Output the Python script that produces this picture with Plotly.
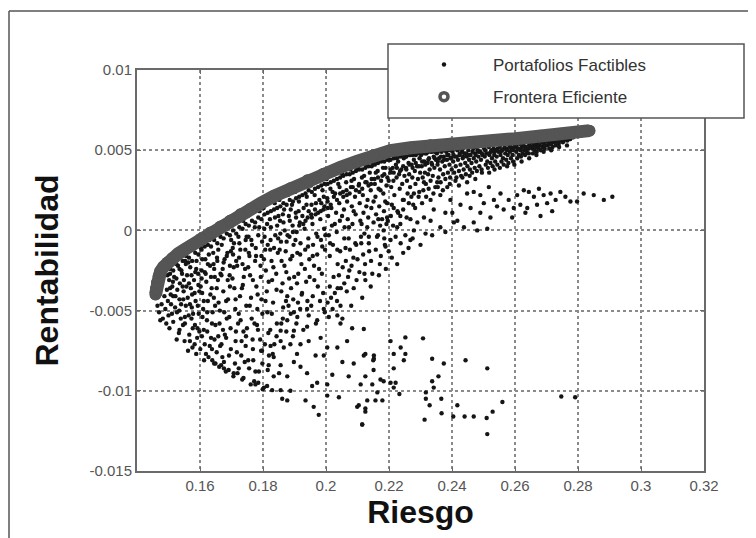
import plotly.graph_objects as go

# ---------------- Data ----------------
frontera_riesgo = [0.14587, 0.14603, 0.14635, 0.14683, 0.14746, 0.14841, 0.14968, 0.15127,
                   0.15317, 0.15540, 0.15762, 0.16016, 0.16333, 0.16651, 0.16968, 0.17286,
                   0.17603, 0.17921, 0.18333, 0.18873, 0.19413, 0.19921, 0.20460, 0.21000,
                   0.21508, 0.22048, 0.22683, 0.23318, 0.23952, 0.24587, 0.25222, 0.26016,
                   0.26810, 0.27444, 0.28079, 0.28365]
frontera_rentabilidad = [-0.0040, -0.003625, -0.00325, -0.002875, -0.002563, -0.002281, -0.0020,
                         -0.001719, -0.001438, -0.001156, -0.000875, -0.000531, -0.000125,
                         0.00025, 0.000625, 0.0010, 0.001344, 0.001688, 0.002125, 0.002625,
                         0.003125, 0.003531, 0.003938, 0.004313, 0.004688, 0.004969, 0.005156,
                         0.005313, 0.005406, 0.0055, 0.005594, 0.005719, 0.005906, 0.006031,
                         0.006156, 0.006219]

factibles_banda = [
    (0.1465,-0.0047),(0.147,-0.0051),(0.1478,-0.0046),(0.1482,-0.0055),(0.149,-0.0049),(0.1493,-0.0058),
    (0.1498,-0.0044),(0.1487,-0.0041),(0.1495,-0.0037),(0.15,-0.0053),(0.1502,-0.0031),(0.1497,-0.0028),
    (0.1503,-0.0061),(0.1474,-0.0056),
    (0.1505,-0.0024),(0.1512,-0.0035),(0.1508,-0.0046),(0.1515,-0.0057),(0.1518,-0.0029),(0.1522,-0.0041),
    (0.1527,-0.0051),(0.153,-0.0022),(0.1533,-0.0064),(0.1536,-0.0033),(0.154,-0.0046),(0.1543,-0.0027),
    (0.1546,-0.0059),(0.1548,-0.0038),(0.1551,-0.0069),(0.1553,-0.0019),(0.1526,-0.0068),(0.1511,-0.0052),
    (0.1539,-0.0055),(0.1549,-0.0031),
    (0.1556,-0.0016),(0.1559,-0.0028),(0.1561,-0.0042),(0.1564,-0.0053),(0.1566,-0.0065),(0.1569,-0.0023),
    (0.1571,-0.0036),(0.1574,-0.0048),(0.1576,-0.0073),(0.1579,-0.0012),(0.1581,-0.0031),(0.1584,-0.0059),
    (0.1586,-0.0044),(0.1589,-0.0019),(0.1591,-0.0067),(0.1594,-0.0027),(0.1596,-0.0052),(0.1598,-0.0038),
    (0.1562,-0.0075),(0.1588,-0.0077),(0.1577,-0.0061),(0.1597,-0.0009),
    (0.1603,-0.0011),(0.1605,-0.0025),(0.1607,-0.0039),(0.161,-0.0049),(0.1612,-0.0062),(0.1615,-0.0071),
    (0.1617,-0.0018),(0.162,-0.0032),(0.1622,-0.0056),(0.1625,-0.0044),(0.1627,-0.0079),(0.163,-0.0006),
    (0.1632,-0.0022),(0.1635,-0.0067),(0.1637,-0.0036),(0.164,-0.0051),(0.1642,-0.0014),(0.1645,-0.0083),
    (0.1647,-0.0029),(0.1649,-0.0059),(0.1613,-0.0081),(0.1638,-0.0074),(0.1644,-0.0042),(0.1608,-0.0054),
    (0.1652,-0.0002),(0.1654,-0.0017),(0.1657,-0.0031),(0.1659,-0.0045),(0.1662,-0.0058),(0.1664,-0.0072),
    (0.1667,-0.0084),(0.1669,-0.0009),(0.1672,-0.0024),(0.1674,-0.0038),(0.1677,-0.0051),(0.1679,-0.0065),
    (0.1682,-0.0088),(0.1684,0.0001),(0.1687,-0.0014),(0.1689,-0.0043),(0.1692,-0.0078),(0.1694,-0.0028),
    (0.1697,-0.0061),(0.1699,-0.0006),(0.1658,-0.0066),(0.1685,-0.0055),(0.1671,-0.0079),(0.1695,-0.0035),
    (0.1702,0.0003),(0.1704,-0.0011),(0.1707,-0.0023),(0.1709,-0.0036),(0.1712,-0.0049),(0.1714,-0.0063),
    (0.1717,-0.0076),(0.1719,-0.0089),(0.1722,-0.0004),(0.1724,-0.0017),(0.1727,-0.0041),(0.1729,-0.0056),
    (0.1732,-0.0069),(0.1734,-0.0093),(0.1737,0.0006),(0.1739,-0.0029),(0.1742,-0.0082),(0.1744,-0.0012),
    (0.1747,-0.0047),(0.1749,-0.0061),(0.1711,-0.0083),(0.1736,-0.0034),(0.1745,-0.0072),(0.1721,-0.0058),
    (0.1752,0.0009),(0.1754,-0.0004),(0.1757,-0.0016),(0.1759,-0.0028),(0.1762,-0.0042),(0.1764,-0.0055),
    (0.1767,-0.0068),(0.1769,-0.0081),(0.1772,-0.0094),(0.1774,0.0002),(0.1777,-0.0011),(0.1779,-0.0035),
    (0.1782,-0.0049),(0.1784,-0.0062),(0.1787,-0.0088),(0.1789,0.0012),(0.1792,-0.0022),(0.1794,-0.0075),
    (0.1797,-0.0007),(0.1799,-0.0099),(0.1756,-0.0086),(0.1781,-0.0059),(0.1795,-0.0043),
    (0.1802,0.0014),(0.1804,0.0001),(0.1807,-0.0012),(0.1809,-0.0025),(0.1812,-0.0038),(0.1814,-0.0051),
    (0.1817,-0.0064),(0.1819,-0.0078),(0.1822,0.0007),(0.1824,-0.0006),(0.1827,-0.0019),(0.1829,-0.0031),
    (0.1832,-0.0045),(0.1834,-0.0091),(0.1837,0.0017),(0.1839,-0.0003),(0.1842,-0.0027),(0.1844,-0.0058),
    (0.1847,-0.0014),(0.1849,0.0009),(0.1813,-0.0097),(0.1836,-0.0071),
    (0.1852,0.0019),(0.1854,0.0006),(0.1857,-0.0007),(0.1859,-0.0019),(0.1862,-0.0033),(0.1864,-0.0048),
    (0.1867,0.0013),(0.1869,0.0),(0.1872,-0.0013),(0.1874,-0.0026),(0.1877,-0.0041),(0.1879,0.0022),
    (0.1882,0.0009),(0.1884,-0.0004),(0.1887,-0.0018),(0.1889,-0.0036),(0.1892,0.0016),(0.1894,0.0003),
    (0.1897,-0.0009),(0.1899,-0.0029),(0.1863,-0.0055),(0.1881,-0.0047),(0.1896,-0.0043),
    (0.1902,0.0024),(0.1904,0.0011),(0.1907,-0.0001),(0.1909,-0.0014),(0.1912,-0.0027),(0.1914,0.0018),
    (0.1917,0.0005),(0.1919,-0.0008),(0.1922,-0.0021),(0.1924,-0.0039),(0.1927,0.0027),(0.1929,0.0014),
    (0.1932,0.0001),(0.1934,-0.0012),(0.1937,-0.0032),(0.1939,0.0021),(0.1942,0.0008),(0.1944,-0.0005),
    (0.1947,-0.0018),(0.1949,0.0029),(0.1911,-0.0045),(0.1941,-0.0044),
    (0.1952,0.0028),(0.1954,0.0016),(0.1957,0.0004),(0.1959,-0.0009),(0.1962,-0.0022),(0.1964,0.0022),
    (0.1967,0.001),(0.1969,-0.0002),(0.1972,-0.0015),(0.1974,-0.0035),(0.1977,0.0031),(0.1979,0.0019),
    (0.1982,0.0007),(0.1984,-0.0006),(0.1987,-0.0027),(0.1989,0.0025),(0.1992,0.0013),(0.1994,0.0001),
    (0.1997,-0.0012),(0.1999,0.0032),(0.1958,-0.0041),(0.1991,-0.0039),
    (0.2002,0.0032),(0.2004,0.002),(0.2007,0.0009),(0.2009,-0.0003),(0.2012,-0.0016),(0.2014,0.0026),
    (0.2017,0.0014),(0.2019,0.0003),(0.2022,-0.0009),(0.2024,-0.0029),(0.2027,0.0035),(0.2029,0.0023),
    (0.2032,0.0011),(0.2034,-0.0001),(0.2037,-0.0021),(0.2039,0.0029),(0.2042,0.0017),(0.2044,0.0006),
    (0.2047,-0.0036),(0.2049,0.0036),(0.2016,-0.0042),(0.2045,-0.0013),
    (0.2052,0.0035),(0.2054,0.0024),(0.2057,0.0013),(0.2059,0.0002),(0.2062,-0.0011),(0.2064,0.003),
    (0.2067,0.0018),(0.2069,0.0007),(0.2072,-0.0005),(0.2074,-0.0025),(0.2077,0.0038),(0.2079,0.0027),
    (0.2082,0.0015),(0.2084,0.0004),(0.2087,-0.0017),(0.2089,0.0032),(0.2092,0.0021),(0.2094,0.001),
    (0.2097,-0.0031),(0.2099,0.0039),(0.2066,-0.0038),
    (0.2102,0.0039),(0.2104,0.0028),(0.2107,0.0017),(0.2109,0.0006),(0.2112,-0.0008),(0.2114,0.0033),
    (0.2117,0.0022),(0.2119,0.0011),(0.2122,-0.0002),(0.2124,-0.0021),(0.2127,0.0041),(0.2129,0.003),
    (0.2132,0.0019),(0.2134,0.0008),(0.2137,-0.0013),(0.2139,0.0036),(0.2142,0.0025),(0.2144,0.0014),
    (0.2147,-0.0027),(0.2149,0.0042),
    (0.2152,0.0042),(0.2154,0.0032),(0.2157,0.0021),(0.2159,0.001),(0.2162,-0.0004),(0.2164,0.0037),
    (0.2167,0.0026),(0.2169,0.0015),(0.2172,0.0003),(0.2174,-0.0016),(0.2177,0.0044),(0.2179,0.0034),
    (0.2182,0.0023),(0.2184,0.0012),(0.2187,-0.0009),(0.2189,0.0039),(0.2192,0.0028),(0.2194,0.0017),
    (0.2197,0.0045),(0.2199,0.0031),
    (0.2202,0.0044),(0.2204,0.0036),(0.2207,0.0027),(0.2209,0.0016),(0.2212,0.0039),(0.2214,0.0031),
    (0.2217,0.0022),(0.2219,0.0046),(0.2222,0.0041),(0.2224,0.0033),(0.2227,0.0012),(0.2229,0.0043),
    (0.2232,0.0035),(0.2234,0.0026),(0.2237,0.0047),(0.2239,0.0038),(0.2242,0.0029),(0.2244,0.0019),
    (0.2247,0.0045),(0.2249,0.0034),
    (0.2252,0.0046),(0.2254,0.0039),(0.2257,0.0031),(0.2259,0.0023),(0.2262,0.0042),(0.2264,0.0035),
    (0.2267,0.0027),(0.2269,0.0047),(0.2272,0.0041),(0.2274,0.0033),(0.2277,0.0016),(0.2279,0.0044),
    (0.2282,0.0037),(0.2284,0.0029),(0.2287,0.0048),(0.2289,0.004),(0.2292,0.0032),(0.2294,0.0021),
    (0.2297,0.0045),(0.2299,0.0036),
    (0.2302,0.0047),(0.2304,0.004),(0.2307,0.0033),(0.2309,0.0025),(0.2312,0.0043),(0.2314,0.0036),
    (0.2317,0.0029),(0.2319,0.0048),(0.2322,0.0042),(0.2324,0.0035),(0.2327,0.0045),(0.2329,0.0038),
    (0.2332,0.0031),(0.2334,0.0049),(0.2337,0.0041),(0.2339,0.0034),(0.2342,0.0046),(0.2344,0.0039),
    (0.2347,0.0027),(0.2349,0.0044),
    (0.2352,0.0048),(0.2354,0.0041),(0.2357,0.0033),(0.2359,0.0045),(0.2362,0.0038),(0.2364,0.003),
    (0.2367,0.0049),(0.2369,0.0043),(0.2372,0.0035),(0.2374,0.0046),(0.2377,0.004),(0.2379,0.0032),
    (0.2382,0.0049),(0.2384,0.0044),(0.2387,0.0036),(0.2389,0.0047),(0.2392,0.0041),(0.2394,0.0033),
    (0.2397,0.0045),(0.2399,0.0038),
    (0.2402,0.0049),(0.2404,0.0043),(0.2407,0.0036),(0.2409,0.0046),(0.2412,0.004),(0.2414,0.0033),
    (0.2417,0.005),(0.2419,0.0044),(0.2422,0.0037),(0.2424,0.0047),(0.2427,0.0041),(0.2429,0.0034),
    (0.2432,0.0049),(0.2434,0.0045),(0.2437,0.0038),(0.2439,0.0048),(0.2442,0.0042),(0.2444,0.0035),
    (0.2447,0.0046),(0.2449,0.004),
    (0.2452,0.005),(0.2454,0.0044),(0.2457,0.0038),(0.2459,0.0047),(0.2462,0.0042),(0.2464,0.0036),
    (0.2467,0.0051),(0.2469,0.0045),(0.2472,0.0039),(0.2474,0.0048),(0.2477,0.0043),(0.2479,0.0037),
    (0.2482,0.005),(0.2484,0.0046),(0.2487,0.004),(0.2489,0.0049),(0.2492,0.0044),(0.2494,0.0038),
    (0.2497,0.0047),
    (0.2502,0.0051),(0.2504,0.0046),(0.2507,0.0041),(0.2509,0.0048),(0.2512,0.0043),(0.2514,0.0039),
    (0.2517,0.0052),(0.2519,0.0047),(0.2522,0.0042),(0.2524,0.0049),(0.2527,0.0045),(0.2529,0.004),
    (0.2532,0.0051),(0.2534,0.0047),(0.2537,0.0043),(0.2539,0.005),(0.2542,0.0046),(0.2544,0.0041),
    (0.2547,0.0049),
    (0.2552,0.0052),(0.2554,0.0047),(0.2557,0.0043),(0.2559,0.005),(0.2562,0.0045),(0.2564,0.0041),
    (0.2567,0.0053),(0.2569,0.0048),(0.2572,0.0044),(0.2574,0.0051),(0.2577,0.0047),(0.2579,0.0042),
    (0.2582,0.0053),(0.2584,0.0049),(0.2587,0.0045),(0.2589,0.0051),(0.2592,0.0047),(0.2594,0.0043),
    (0.2597,0.0052),
    (0.2602,0.0053),(0.2604,0.0049),(0.2607,0.0045),(0.2609,0.0051),(0.2612,0.0047),(0.2614,0.0054),
    (0.2617,0.005),(0.2619,0.0046),(0.2622,0.0052),(0.2624,0.0048),(0.2627,0.0054),(0.2629,0.005),
    (0.2632,0.0047),(0.2634,0.0052),(0.2637,0.0049),(0.2639,0.0055),(0.2642,0.0051),(0.2644,0.0048),
    (0.2647,0.0053),
    (0.2652,0.0055),(0.2654,0.0051),(0.2657,0.0048),(0.2659,0.0053),(0.2662,0.005),(0.2664,0.0056),
    (0.2667,0.0052),(0.2669,0.0049),(0.2672,0.0055),(0.2674,0.0051),(0.2677,0.0057),(0.2679,0.0053),
    (0.2682,0.005),(0.2684,0.0056),(0.2687,0.0052),(0.2689,0.0057),(0.2692,0.0054),(0.2694,0.0051),
    (0.2697,0.0056),
    (0.2702,0.0057),(0.2704,0.0053),(0.2707,0.0055),(0.2709,0.0051),(0.2712,0.0058),(0.2714,0.0054),
    (0.2717,0.0056),(0.2719,0.0052),(0.2722,0.0058),(0.2724,0.0055),(0.2727,0.0057),(0.2729,0.0053),
    (0.2732,0.0059),(0.2734,0.0056),(0.2737,0.0058),(0.2739,0.0054),(0.2742,0.0059),(0.2744,0.0056),
    (0.2747,0.0058),
    (0.2752,0.0055),(0.2756,0.0059),(0.2759,0.0057),(0.2763,0.006),(0.2766,0.0056),(0.277,0.0059),
    (0.2774,0.0057),(0.2778,0.006),(0.2781,0.0058),(0.2785,0.0061),(0.2789,0.0059),(0.2793,0.0061),
    (0.2797,0.0059),(0.2801,0.0061),(0.2805,0.006),(0.2809,0.0062),
]

factibles_borde = [
    (0.1505,-0.0027),(0.1505,-0.0036),(0.1515,-0.0025),(0.1515,-0.0041),(0.1525,-0.0021),(0.1525,-0.0030),
    (0.1535,-0.0024),(0.1535,-0.0043),(0.1545,-0.0019),(0.1545,-0.0035),(0.1555,-0.0021),(0.1555,-0.0047),
    (0.1565,-0.0017),(0.1565,-0.0033),(0.1575,-0.0019),(0.1575,-0.0040),(0.1585,-0.0014),(0.1585,-0.0026),
    (0.1595,-0.0015),(0.1595,-0.0034),(0.1605,-0.0012),(0.1605,-0.0030),(0.1615,-0.0010),(0.1615,-0.0026),
    (0.1625,-0.0009),(0.1625,-0.0021),(0.1635,-0.0010),(0.1635,-0.0029),(0.1645,-0.0006),(0.1645,-0.0024),
    (0.1655,-0.0008),(0.1655,-0.0019),(0.1665,-0.0004),(0.1665,-0.0027),(0.1675,-0.0005),(0.1675,-0.0020),
    (0.1685,-0.0002),(0.1685,-0.0016),(0.1695,-0.0003),(0.1695,-0.0022),(0.1705,0.0000),(0.1705,-0.0015),
    (0.1715,-0.0002),(0.1715,-0.0019),(0.1725,0.0002),(0.1725,-0.0008),(0.1735,0.0001),(0.1735,-0.0021),
    (0.1745,0.0004),(0.1745,-0.0006),(0.1755,0.0003),(0.1755,-0.0014),(0.1765,0.0006),(0.1765,-0.0009),
    (0.1775,0.0005),(0.1775,-0.0019),(0.1785,0.0008),(0.1785,-0.0003),(0.1795,0.0007),(0.1795,-0.0016),
    (0.1805,0.0010),(0.1805,-0.0004),(0.1815,0.0011),(0.1815,-0.0009),(0.1825,0.0012),(0.1825,0.0002),
    (0.1835,0.0013),(0.1835,-0.0011),(0.1845,0.0014),(0.1845,0.0003),(0.1855,0.0015),(0.1855,-0.0002),
    (0.1865,0.0017),(0.1865,0.0005),(0.1875,0.0016),(0.1875,-0.0007),(0.1885,0.0019),(0.1885,0.0006),
    (0.1895,0.0018),(0.1895,-0.0001),(0.1905,0.0020),(0.1905,0.0008),(0.1915,0.0021),(0.1915,0.0003),
    (0.1925,0.0022),(0.1925,0.0009),(0.1935,0.0023),(0.1935,0.0006),(0.1945,0.0025),(0.1945,0.0012),
    (0.1955,0.0024),(0.1955,0.0008),(0.1965,0.0026),(0.1965,0.0013),(0.1975,0.0027),(0.1975,0.0011),
    (0.1985,0.0028),(0.1985,0.0017),(0.1995,0.0029),(0.1995,0.0015),(0.2005,0.0029),(0.2005,0.0018),
    (0.2015,0.0030),(0.2015,0.0016),(0.2025,0.0031),(0.2025,0.0021),(0.2035,0.0032),(0.2035,0.0019),
    (0.2045,0.0033),(0.2045,0.0023),(0.2055,0.0034),(0.2055,0.0021),(0.2065,0.0035),(0.2065,0.0025),
    (0.2075,0.0035),(0.2075,0.0023),(0.2085,0.0036),(0.2085,0.0027),(0.2095,0.0037),(0.2095,0.0025),
    (0.2105,0.0038),(0.2105,0.0029),(0.2115,0.0038),(0.2115,0.0026),(0.2125,0.0039),(0.2125,0.0030),
    (0.2135,0.0040),(0.2135,0.0028),(0.2145,0.0040),(0.2145,0.0032),(0.2155,0.0041),(0.2155,0.0029),
    (0.2165,0.0042),(0.2165,0.0033),(0.2175,0.0043),(0.2175,0.0031),(0.2185,0.0043),(0.2185,0.0035),
    (0.2195,0.0044),(0.2195,0.0033),
    (0.2205,0.0044),(0.2205,0.0038),(0.2215,0.0045),(0.2215,0.0036),(0.2225,0.0045),(0.2225,0.0039),
    (0.2235,0.0046),(0.2235,0.0037),(0.2245,0.0046),(0.2245,0.0040),(0.2255,0.0046),(0.2255,0.0038),
    (0.2265,0.0047),(0.2265,0.0041),(0.2275,0.0047),(0.2275,0.0039),(0.2285,0.0047),(0.2285,0.0042),
    (0.2295,0.0048),(0.2295,0.0040),(0.2305,0.0048),(0.2305,0.0043),(0.2315,0.0048),(0.2315,0.0041),
    (0.2325,0.0049),(0.2325,0.0044),(0.2335,0.0049),(0.2335,0.0042),(0.2345,0.0049),(0.2345,0.0045),
    (0.2355,0.0049),(0.2355,0.0043),(0.2365,0.0050),(0.2365,0.0046),(0.2375,0.0050),(0.2375,0.0044),
    (0.2385,0.0050),(0.2385,0.0047),(0.2395,0.0050),(0.2395,0.0045),(0.2405,0.0051),(0.2405,0.0047),
    (0.2415,0.0051),(0.2415,0.0046),(0.2425,0.0051),(0.2425,0.0048),(0.2435,0.0051),(0.2435,0.0046),
    (0.2445,0.0052),(0.2445,0.0048),(0.2455,0.0052),(0.2455,0.0047),(0.2465,0.0052),(0.2465,0.0049),
    (0.2475,0.0052),(0.2475,0.0047),(0.2485,0.0053),(0.2485,0.0049),(0.2495,0.0053),(0.2495,0.0048),
    (0.2505,0.0053),(0.2505,0.0050),(0.2515,0.0053),(0.2515,0.0048),(0.2525,0.0054),(0.2525,0.0050),
    (0.2535,0.0054),(0.2535,0.0049),(0.2545,0.0054),(0.2545,0.0051),(0.2555,0.0054),(0.2555,0.0049),
    (0.2565,0.0055),(0.2565,0.0051),(0.2575,0.0055),(0.2575,0.0050),(0.2585,0.0055),(0.2585,0.0052),
    (0.2595,0.0055),(0.2595,0.0050),(0.2605,0.0056),(0.2605,0.0052),(0.2615,0.0056),(0.2615,0.0051),
    (0.2625,0.0056),(0.2625,0.0053),(0.2635,0.0057),(0.2635,0.0051),(0.2645,0.0057),(0.2645,0.0053),
    (0.2655,0.0057),(0.2655,0.0052),(0.2665,0.0057),(0.2665,0.0054),(0.2675,0.0058),(0.2675,0.0053),
    (0.2685,0.0058),(0.2685,0.0055),(0.2695,0.0058),(0.2695,0.0053),(0.2705,0.0059),(0.2705,0.0055),
    (0.2715,0.0059),(0.2715,0.0054),(0.2725,0.0059),(0.2725,0.0056),(0.2735,0.0060),(0.2735,0.0055),
    (0.2745,0.0060),(0.2745,0.0057),(0.2755,0.0060),(0.2755,0.0056),(0.2765,0.0060),(0.2765,0.0058),
    (0.2775,0.0061),(0.2775,0.0057),(0.2785,0.0061),(0.2785,0.0058),(0.2795,0.0061),(0.2795,0.0059),
]

factibles_relleno = [
    (0.1507,-0.0040),(0.1514,-0.0032),(0.1521,-0.0048),(0.1528,-0.0037),(0.1534,-0.0050),(0.1541,-0.0025),
    (0.1547,-0.0043),(0.1552,-0.0054),
    (0.1557,-0.0035),(0.1563,-0.0020),(0.1568,-0.0046),(0.1573,-0.0028),(0.1578,-0.0052),(0.1583,-0.0039),
    (0.1588,-0.0024),(0.1593,-0.0047),(0.1598,-0.0063),
    (0.1602,-0.0035),(0.1607,-0.0018),(0.1612,-0.0044),(0.1618,-0.0027),(0.1623,-0.0051),(0.1628,-0.0015),
    (0.1633,-0.0040),(0.1638,-0.0058),(0.1643,-0.0021),(0.1648,-0.0047),
    (0.1653,-0.0036),(0.1658,-0.0012),(0.1663,-0.0050),(0.1668,-0.0028),(0.1673,-0.0062),(0.1678,-0.0018),
    (0.1683,-0.0044),(0.1688,-0.0031),(0.1693,-0.0054),(0.1698,-0.0013),
    (0.1703,-0.0030),(0.1708,-0.0008),(0.1713,-0.0043),(0.1718,-0.0022),(0.1723,-0.0052),(0.1728,-0.0012),
    (0.1733,-0.0036),(0.1738,-0.0063),(0.1743,-0.0024),(0.1748,-0.0004),
    (0.1753,-0.0023),(0.1758,-0.0047),(0.1763,-0.0006),(0.1768,-0.0031),(0.1773,-0.0058),(0.1778,-0.0016),
    (0.1783,-0.0040),(0.1788,0.0002),(0.1793,-0.0029),(0.1798,-0.0052),
    (0.1803,-0.0018),(0.1808,-0.0044),(0.1813,0.0004),(0.1818,-0.0032),(0.1823,-0.0012),(0.1828,-0.0052),
    (0.1833,-0.0023),(0.1838,0.0008),(0.1843,-0.0037),(0.1848,-0.0005),
    (0.1853,-0.0012),(0.1858,-0.0038),(0.1863,0.0010),(0.1868,-0.0022),(0.1873,-0.0044),(0.1878,-0.0003),
    (0.1883,-0.0030),(0.1888,0.0013),(0.1893,-0.0016),(0.1898,-0.0051),
    (0.1903,-0.0006),(0.1908,-0.0033),(0.1913,0.0012),(0.1918,-0.0015),(0.1923,-0.0040),(0.1928,0.0004),
    (0.1933,-0.0024),(0.1938,0.0016),(0.1943,-0.0010),(0.1948,-0.0029),
    (0.1953,0.0010),(0.1958,-0.0016),(0.1963,-0.0031),(0.1968,0.0017),(0.1973,-0.0004),(0.1978,-0.0024),
    (0.1983,0.0012),(0.1988,-0.0010),(0.1993,0.0021),(0.1998,-0.0003),
    (0.2006,0.0014),(0.2013,-0.0008),(0.2021,0.0024),(0.2028,0.0004),(0.2036,-0.0012),(0.2043,0.0027),
    (0.2051,0.0009),(0.2058,-0.0005),(0.2066,0.0022),(0.2073,0.0002),(0.2081,0.0031),(0.2088,0.0012),
    (0.2096,-0.0009),
    (0.2106,0.0024),(0.2113,0.0004),(0.2121,0.0034),(0.2128,0.0015),(0.2136,-0.0004),(0.2143,0.0029),
    (0.2151,0.0018),(0.2158,0.0036),(0.2166,0.0007),(0.2173,0.0025),(0.2181,0.0039),(0.2188,0.0018),
    (0.2196,0.0006),
]

factibles_lobulo = [
    (0.1535,-0.0062),(0.1552,-0.0058),(0.1568,-0.0069),(0.1573,-0.0055),(0.1583,-0.0071),(0.1592,-0.0061),
    (0.1601,-0.0074),(0.1606,-0.0066),(0.1619,-0.0077),(0.1623,-0.0063),(0.1631,-0.0072),(0.1639,-0.0081),
    (0.1646,-0.0068),(0.1653,-0.0076),(0.1661,-0.0085),(0.1668,-0.0071),(0.1676,-0.0082),(0.1683,-0.0067),
    (0.1691,-0.0087),(0.1698,-0.0074),(0.1706,-0.0091),(0.1713,-0.0069),(0.1723,-0.0086),(0.1731,-0.0078),
    (0.1738,-0.0092),(0.1746,-0.0066),(0.1753,-0.0081),(0.1761,-0.0096),(0.1768,-0.0074),(0.1776,-0.0088),
    (0.1785,-0.0095),(0.1791,-0.0068),(0.1798,-0.0083),(0.1806,-0.0071),(0.1815,-0.0087),(0.1823,-0.0062),
    (0.1831,-0.0077),(0.1843,-0.0066),(0.1851,-0.0089),(0.1858,-0.0058),(0.1866,-0.0073),(0.1874,-0.0063),
    (0.1888,-0.0052),(0.1895,-0.0066),(0.1906,-0.0058),(0.1918,-0.0049),(0.1928,-0.0062),(0.1945,-0.0053),
    (0.1953,-0.0047),(0.1968,-0.0058),(0.1981,-0.0044),(0.1996,-0.0051),
]

factibles_intermedios = [
    (0.2005,-0.0045),(0.2012,-0.0035),(0.2021,-0.0049),(0.2028,-0.0039),(0.2035,-0.0044),(0.2041,-0.0028),
    (0.2046,-0.0047),(0.2053,-0.0023),(0.2058,-0.0033),(0.2063,-0.0019),(0.207,-0.0029),(0.2076,-0.0012),
    (0.2081,-0.0022),(0.2088,-0.0036),(0.2093,-0.0008),(0.21,-0.0018),(0.2106,-0.0026),(0.2111,-0.0004),
    (0.2118,-0.0015),(0.2125,-0.0031),(0.2131,0.0002),(0.2136,-0.0008),(0.2143,-0.0019),(0.2151,0.0005),
    (0.2158,-0.0012),(0.2165,-0.0003),(0.2171,-0.0021),(0.2178,0.0007),(0.2185,-0.0005),(0.2192,0.0004),
    (0.2199,-0.0013),(0.2206,0.0009),(0.2213,0.0003),(0.2221,-0.0004),(0.2229,0.0011),(0.2236,0.0004),
    (0.2245,0.0013),(0.2256,0.0008),(0.2263,0.0017),(0.2271,0.0021),(0.2283,0.0014),(0.2296,0.0024),
    (0.2305,0.0017),(0.2318,0.0021),(0.2326,0.0026),(0.2341,0.0023),(0.2355,0.0027),(0.2371,0.0025),
    (0.2393,0.0029),(0.2411,0.0031),(0.2433,0.0033),(0.2456,0.0034),(0.2474,0.0032),(0.2495,0.0036),
    (0.2518,0.0036),(0.2535,0.0038),(0.2552,0.0039),(0.2575,0.004),(0.2598,0.0041),(0.2621,0.0043),
    (0.2645,0.0045),(0.2668,0.0047),(0.2691,0.0049),(0.2715,0.005),(0.274,0.0052),(0.2765,0.0053),
    (0.2037,-0.0036),(0.2052,-0.0055),(0.208,-0.0047),(0.2115,-0.0042),(0.2142,-0.0035),(0.2168,-0.0028),
    (0.219,-0.0024),(0.2209,-0.0017),(0.2226,-0.0021),(0.2245,-0.0014),(0.2262,-0.0011),(0.2275,-0.0005),
    (0.2122,-0.0027),
]

factibles_rama_superior = [
    (0.2517,0.0027),(0.2554,0.0023),(0.2580,0.0019),(0.2607,0.0022),(0.2628,0.0025),(0.2644,0.0024),
    (0.2660,0.0021),(0.2676,0.0026),(0.2691,0.0022),(0.2713,0.0023),(0.2729,0.0019),(0.2744,0.0024),
    (0.2760,0.0021),(0.2776,0.0018),(0.2797,0.0018),(0.2818,0.0023),(0.2850,0.0022),(0.2882,0.0019),
    (0.2909,0.0021),(0.2617,0.0016),(0.2639,0.0014),(0.2670,0.0016),(0.2702,0.0017),(0.2718,0.0012),
    (0.2681,0.0009),(0.2633,0.0011),(0.2596,0.0014),(0.2591,0.0008),(0.2564,0.0013),(0.2543,0.0015),
    (0.2533,0.0019),(0.2501,0.0017),(0.2490,0.0022),(0.2469,0.0024),(0.2448,0.0023),(0.2490,0.0011),
    (0.2522,0.0008),(0.2469,0.0005),(0.2438,0.0002),(0.2480,0.0),(0.2512,0.0001),(0.2417,0.0006),
    (0.2401,0.0011),(0.2427,0.0016),(0.2395,0.0019),(0.2422,0.0028),(0.2448,0.0030),(0.2459,0.0014),
    (0.2363,0.0022),(0.2332,0.0019),(0.2342,0.0013),(0.2311,0.0008),(0.2290,0.0005),(0.2279,0.0),
    (0.2316,-0.0002),(0.2337,-0.0003),(0.2379,-0.0001),(0.2406,0.0005),(0.2252,-0.0003),(0.2226,0.0002),
    (0.2205,-0.0006),(0.2237,-0.0008),(0.2268,-0.0006),(0.2300,-0.0009),(0.2189,-0.0010),(0.2385,0.0027),
    (0.2353,0.0030),(0.2311,0.0030),(0.2279,0.0023),(0.2247,0.0019),(0.2215,0.0014),(0.2194,0.0008),
    (0.2183,0.0),(0.2236,0.0009),(0.2268,0.0007),(0.2332,0.0006),(0.2379,0.0011),(0.2363,0.0002),
]

factibles_dispersos = [
    (0.1649,-0.0083),(0.1676,-0.0086),(0.1707,-0.0089),(0.1776,-0.0096),(0.1803,-0.0098),(0.1829,-0.00996),
    (0.1856,-0.00996),(0.1861,-0.0105),(0.1877,-0.0106),(0.1887,-0.0100),(0.1935,-0.0106),(0.1961,-0.0110),
    (0.1977,-0.0115),(0.2004,-0.0103),(0.2041,-0.0104),(0.2099,-0.0110),(0.2115,-0.0121),(0.2125,-0.0113),
    (0.2157,-0.0106),(0.2072,-0.0091),(0.2088,-0.0083),(0.2052,-0.0082),(0.2036,-0.0073),(0.2067,-0.0069),
    (0.2083,-0.0061),(0.2125,-0.0077),(0.2152,-0.0080),(0.2020,-0.0090),(0.2004,-0.0096),(0.1972,-0.0095),
    (0.1956,-0.0097),(0.1940,-0.0089),(0.1919,-0.0085),(0.1898,-0.0082),(0.1877,-0.0091),(0.1856,-0.0084),
    (0.1818,-0.0084),(0.1834,-0.0079),(0.1908,-0.0077),(0.1967,-0.0078),(0.1993,-0.0078),(0.2004,-0.0073),
    (0.1983,-0.0067),(0.1945,-0.0069),(0.1919,-0.0071),(0.1887,-0.0071),(0.1856,-0.0069),(0.1824,-0.0072),
    (0.1797,-0.0075),(0.1856,-0.00625),(0.1898,-0.00625),(0.1940,-0.0060),(0.1972,-0.0056),(0.2009,-0.0054),
    (0.2036,-0.0053),(0.2046,-0.0058),(0.1993,-0.0049),(0.1940,-0.0049),(0.1909,-0.0054),(0.1877,-0.0056),
    (0.2120,-0.00615),(0.2252,-0.00667),(0.2308,-0.00673),(0.2205,-0.0069),(0.2237,-0.0073),(0.2215,-0.0077),
    (0.2252,-0.0077),(0.2120,-0.0078),(0.2152,-0.0078),(0.2337,-0.0080),(0.2443,-0.0081),(0.2374,-0.0083),
    (0.2150,-0.0081),(0.2247,-0.0081),(0.2512,-0.0086),(0.2151,-0.0087),(0.2215,-0.0086),(0.2125,-0.0091),
    (0.2357,-0.0091),(0.2173,-0.0093),(0.2183,-0.0094),(0.2337,-0.0094),(0.2205,-0.0095),(0.2221,-0.0095),
    (0.2110,-0.0096),(0.2147,-0.0096),(0.2342,-0.0098),(0.2215,-0.0098),(0.2163,-0.0101),(0.2317,-0.0101),
    (0.2233,-0.0102),(0.2131,-0.0106),(0.2179,-0.0106),(0.2317,-0.0105),(0.2366,-0.0105),(0.2560,-0.0107),
    (0.2329,-0.0109),(0.2417,-0.0109),(0.2125,-0.0111),(0.2367,-0.0114),(0.2529,-0.0113),(0.2404,-0.0116),
    (0.2440,-0.0116),(0.2469,-0.0116),(0.2510,-0.0117),(0.2313,-0.0118),(0.2115,-0.0121),(0.2512,-0.0127),
    (0.2104,-0.0109),(0.2747,-0.01036),(0.2791,-0.0104),
]

todos = (factibles_banda + factibles_borde + factibles_relleno + factibles_lobulo
         + factibles_intermedios + factibles_rama_superior + factibles_dispersos)
factibles_riesgo = [p[0] for p in todos]
factibles_rentabilidad = [p[1] for p in todos]

x_ticks = [0.16, 0.18, 0.2, 0.22, 0.24, 0.26, 0.28, 0.3, 0.32]
x_tick_text = ["0.16", "0.18", "0.2", "0.22", "0.24", "0.26", "0.28", "0.3", "0.32"]
y_ticks = [-0.015, -0.01, -0.005, 0, 0.005, 0.01]
y_tick_text = ["-0.015", "-0.01", "-0.005", "0", "0.005", "0.01"]

# ---------------- Figure ----------------
# the page body has an 8px margin; the figure is sized so that it fits the window
OFF = 8
W, H = 756 - OFF, 538 - OFF
L, T = 137 - OFF, 70 - OFF
R, B = W - (704 - OFF), H - (471 - OFF)
PW, PH = W - L - R, H - T - B


def px_x(sx):  # screen x -> paper x
    return (sx - OFF - L) / PW


def px_y(sy):  # screen y -> paper y
    return (H - B - (sy - OFF)) / PH


FONT = "Liberation Sans, Arial, sans-serif"

fig = go.Figure()

fig.add_trace(go.Scatter(
    x=factibles_riesgo, y=factibles_rentabilidad, mode="markers",
    name="Portafolios Factibles", legendgroup="a",
    marker=dict(size=4.4, color="#151515", line=dict(width=0)),
))
fig.add_trace(go.Scatter(
    x=frontera_riesgo, y=frontera_rentabilidad, mode="lines+markers",
    line=dict(color="#555555", width=13, shape="linear"),
    marker=dict(symbol="circle", size=12, color="#555555"),
    showlegend=False, hoverinfo="skip",
))
fig.add_trace(go.Scatter(
    x=frontera_riesgo, y=frontera_rentabilidad, mode="markers",
    name="Frontera Eficiente", legendgroup="b",
    marker=dict(symbol="circle-open", size=8, color="#555555", line=dict(width=3.5, color="#555555")),
))

axis_common = dict(
    showline=True, linecolor="#6a6a6a", linewidth=2, mirror="ticks",
    ticks="inside", ticklen=4, tickcolor="#6a6a6a",
    showgrid=True, gridcolor="#8a8a8a", griddash="dot", gridwidth=1.5,
    zeroline=False,
    tickfont=dict(family=FONT, size=15, color="#555555"),
)

fig.update_xaxes(
    range=[0.14, 0.32], tickmode="array", tickvals=x_ticks, ticktext=x_tick_text,
    title=dict(text="<b>Riesgo</b>", font=dict(family=FONT, size=32, color="#111111"), standoff=2),
    **axis_common,
)
fig.update_yaxes(
    range=[-0.015, 0.01], tickmode="array", tickvals=y_ticks, ticktext=y_tick_text,
    title=dict(text="<b>Rentabilidad</b>", font=dict(family=FONT, size=32, color="#111111"), standoff=21),
    **axis_common,
)

fig.update_layout(
    width=W, height=H,
    margin=dict(l=L, r=R, t=T, b=B, autoexpand=False),
    paper_bgcolor="white", plot_bgcolor="white",
    showlegend=True,
    legend=dict(
        x=px_x(395), y=px_y(47), xanchor="left", yanchor="top",
        bgcolor="rgba(0,0,0,0)", borderwidth=0, itemwidth=88,
        font=dict(family=FONT, size=17, color="#333333"),
        tracegroupgap=7, traceorder="grouped",
    ),
    shapes=[
        dict(type="rect", xref="paper", yref="paper",
             x0=px_x(388), x1=px_x(744), y0=px_y(118), y1=px_y(44),
             line=dict(color="#555555", width=1.5), fillcolor="white", layer="above"),
        dict(type="line", xref="paper", yref="paper",
             x0=px_x(9), x1=px_x(756), y0=px_y(11), y1=px_y(11),
             line=dict(color="#555555", width=1.5)),
        dict(type="line", xref="paper", yref="paper",
             x0=px_x(9), x1=px_x(9), y0=px_y(11), y1=px_y(538),
             line=dict(color="#555555", width=1.5)),
    ],
)

fig.write_html("out.html")
